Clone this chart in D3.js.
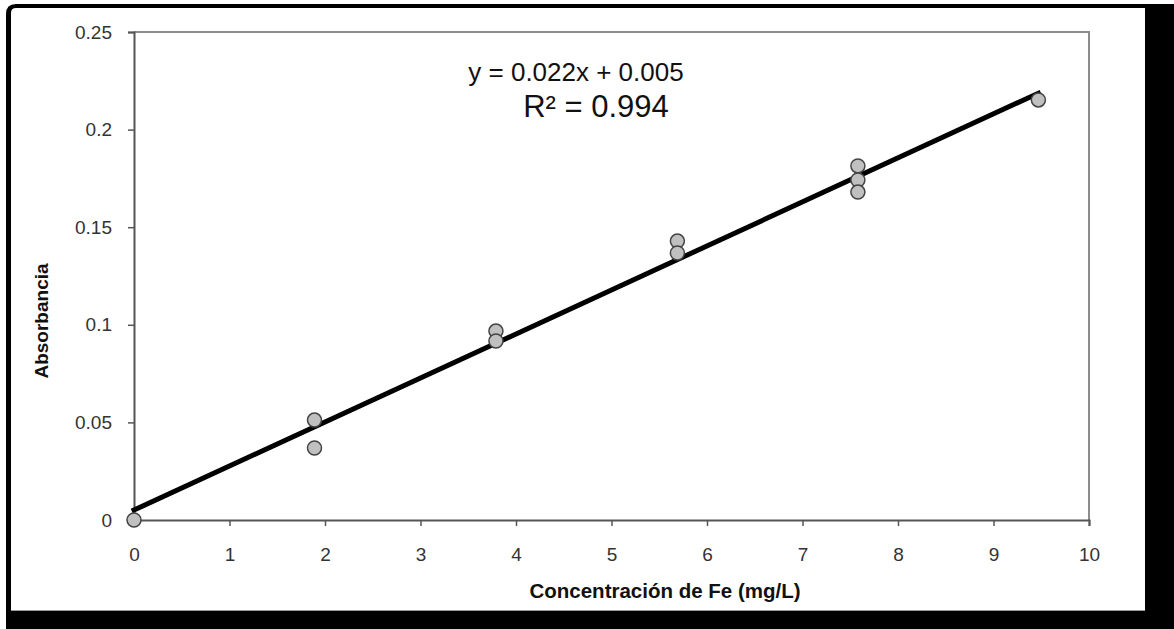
<!DOCTYPE html>
<html>
<head>
<meta charset="utf-8">
<script src="https://cdn.jsdelivr.net/npm/d3@7"></script>
<style>
  body { margin: 0; background: #fff; }
  text { font-family: Arial, "Liberation Sans", sans-serif; }
</style>
</head>
<body>
<div id="chart"></div>
<script>
// calibration points
const concentrations = [0, 1.89, 1.89, 3.79, 3.79, 5.69, 5.69, 7.58, 7.58, 7.58, 9.47];
const absorbances = [0, 0.0512, 0.0369, 0.0968, 0.0917, 0.1429, 0.1368, 0.1814, 0.1742, 0.1680, 0.2152];

// trend line as drawn (equation label is rounded)
const trendSlope = 0.02255;
const trendIntercept = 0.0051;
const equationLines = ["y = 0.022x + 0.005", "R² = 0.994"];

const xTicks = [0, 1, 2, 3, 4, 5, 6, 7, 8, 9, 10];
const yTicks = [0, 0.05, 0.1, 0.15, 0.2, 0.25];
const xLabel = "Concentración de Fe (mg/L)";
const yLabel = "Absorbancia";

const width = 1174, height = 629;
const margin = {top: 32, right: 85, bottom: 109, left: 134};

const svg = d3.select("#chart").append("svg")
    .attr("width", width)
    .attr("height", height);

// frame with black shadow, only the top-left corner is rounded
function roundedTL(x0, y0, x1, y1, r) {
    return `M${x0},${y0 + r}Q${x0},${y0} ${x0 + r},${y0}H${x1}V${y1}H${x0}Z`;
}
svg.append("path")
    .attr("d", roundedTL(6, 4, width, height, 10))
    .attr("fill", "#000");
svg.append("path")
    .attr("d", roundedTL(11, 8, 1145, 611, 5))
    .attr("fill", "#fff");
svg.append("line")
    .attr("x1", 11).attr("x2", 1145)
    .attr("y1", 610.5).attr("y2", 610.5)
    .attr("stroke", "#9a9a9a");

const x = d3.scaleLinear()
    .domain([0, 10])
    .range([margin.left, width - margin.right]);
const y = d3.scaleLinear()
    .domain([0, 0.25])
    .range([height - margin.bottom, margin.top]);

// plot border (top/right gray)
svg.append("path")
    .attr("d", `M${x(0)},${y(0.25)}H${x(10)}V${y(0)}`)
    .attr("fill", "none")
    .attr("stroke", "#8c8c8c")
    .attr("stroke-width", 2);

const fmt = d => d === 0 ? "0" : String(+d.toFixed(2));

const xAxis = svg.append("g")
    .attr("transform", `translate(0,${y(0)})`)
    .call(d3.axisBottom(x).tickValues(xTicks).tickSize(6).tickPadding(22).tickFormat(fmt));
const yAxis = svg.append("g")
    .attr("transform", `translate(${x(0)},0)`)
    .call(d3.axisLeft(y).tickValues(yTicks).tickSize(6).tickPadding(16).tickFormat(fmt));

[xAxis, yAxis].forEach(g => {
    g.select(".domain").attr("stroke", "#555").attr("stroke-width", 2);
    g.selectAll(".tick line").attr("stroke", "#555").attr("stroke-width", 1.5);
    g.selectAll(".tick text")
        .attr("fill", "#333")
        .attr("font-size", 19)
        .attr("font-family", "Arial, 'Liberation Sans', sans-serif");
});

// trend line
const xMax = d3.max(concentrations);
svg.append("line")
    .attr("x1", x(0)).attr("y1", y(trendIntercept))
    .attr("x2", x(xMax)).attr("y2", y(trendSlope * xMax + trendIntercept))
    .attr("stroke", "#000")
    .attr("stroke-width", 5)
    .attr("stroke-linecap", "square");

// points
svg.append("g").selectAll("circle")
    .data(concentrations.map((c, i) => [c, absorbances[i]]))
    .join("circle")
    .attr("cx", d => x(d[0]))
    .attr("cy", d => y(d[1]))
    .attr("r", 7)
    .attr("fill", "#c0c0c0")
    .attr("stroke", "#444")
    .attr("stroke-width", 1.5);

// equation
svg.append("text")
    .attr("x", 576).attr("y", 81)
    .attr("text-anchor", "middle")
    .attr("font-size", 26)
    .attr("fill", "#111")
    .text(equationLines[0]);
svg.append("text")
    .attr("x", 596).attr("y", 117)
    .attr("text-anchor", "middle")
    .attr("font-size", 31)
    .attr("fill", "#111")
    .text(equationLines[1]);

// axis titles
svg.append("text")
    .attr("x", 665).attr("y", 598)
    .attr("text-anchor", "middle")
    .attr("font-size", 20.5)
    .attr("font-weight", "bold")
    .attr("fill", "#111")
    .text(xLabel);
svg.append("text")
    .attr("transform", "translate(48,321) rotate(-90)")
    .attr("text-anchor", "middle")
    .attr("font-size", 19)
    .attr("font-weight", "bold")
    .attr("fill", "#111")
    .text(yLabel);
</script>
</body>
</html>
